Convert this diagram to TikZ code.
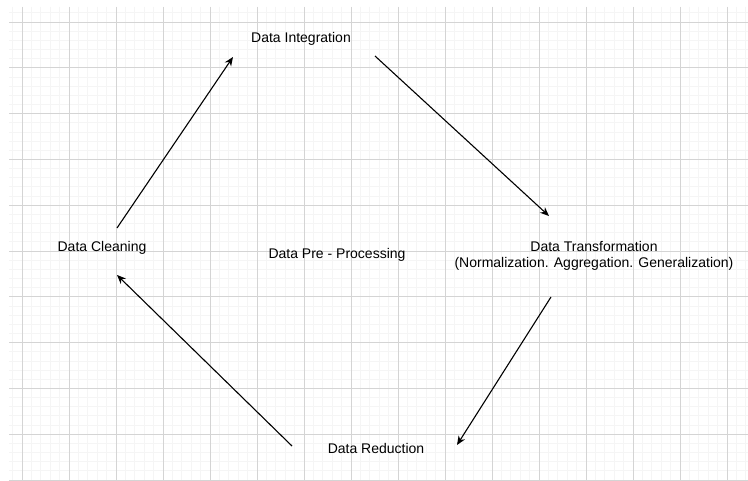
\documentclass[tikz,border=0pt]{standalone}
\usepackage{fontspec}
\setmainfont{Liberation Sans}
\usetikzlibrary{arrows.meta}
\definecolor{gridmajor}{RGB}{212,212,212}
\definecolor{gridminor}{RGB}{245,245,245}

\begin{document}
\begin{tikzpicture}[x=1pt,y=-1pt,
  lbl/.style={font=\fontsize{14}{16}\selectfont,inner sep=0pt,align=center},
  flow/.style={line width=1.1pt,-{Stealth[length=9pt,width=7.5pt]}}]
\useasboundingbox (0,0) rectangle (748,481);
\fill [white] (0,0) rectangle (748,481);
% grid
\foreach \i in {0,...,78} \draw [gridminor, line width=0.8pt] ({12.6+9.4*\i},7) -- ({12.6+9.4*\i},480);
\foreach \j in {0,...,50} \draw [gridminor, line width=0.8pt] (9,{12.84+9.16*\j}) -- (748,{12.84+9.16*\j});
\foreach \i in {0,...,15} \draw [gridmajor, line width=0.9pt] ({22+47*\i},7) -- ({22+47*\i},480);
\foreach \j in {0,...,10} \draw [gridmajor, line width=0.9pt] (9,{22+45.8*\j}) -- (748,{22+45.8*\j});
% labels
\node [lbl] (integ) at (301,38.5) {Data Integration};
\node [lbl] (transf) at (594,255.5) {Data Transformation\\(Normalization. Aggregation. Generalization)};
\node [lbl] (reduc) at (376,448.5) {Data Reduction};
\node [lbl] (clean) at (102,247.5) {Data Cleaning};
\node [lbl] (pre) at (337,254.5) {Data Pre - Processing};
% cycle
\draw [flow] ([xshift=15pt,yshift=19.5pt]clean.center) -- ([xshift=-68pt,yshift=-18.5pt]integ.center);
\draw [flow] ([xshift=74pt,yshift=-17.5pt]integ.center) -- ([xshift=-45pt,yshift=39.5pt]transf.center);
\draw [flow] ([xshift=-43pt,yshift=-41.5pt]transf.center) -- ([xshift=81pt,yshift=3.5pt]reduc.center);
\draw [flow] ([xshift=-84pt,yshift=2.5pt]reduc.center) -- ([xshift=15pt,yshift=-27.5pt]clean.center);
\end{tikzpicture}
\end{document}
